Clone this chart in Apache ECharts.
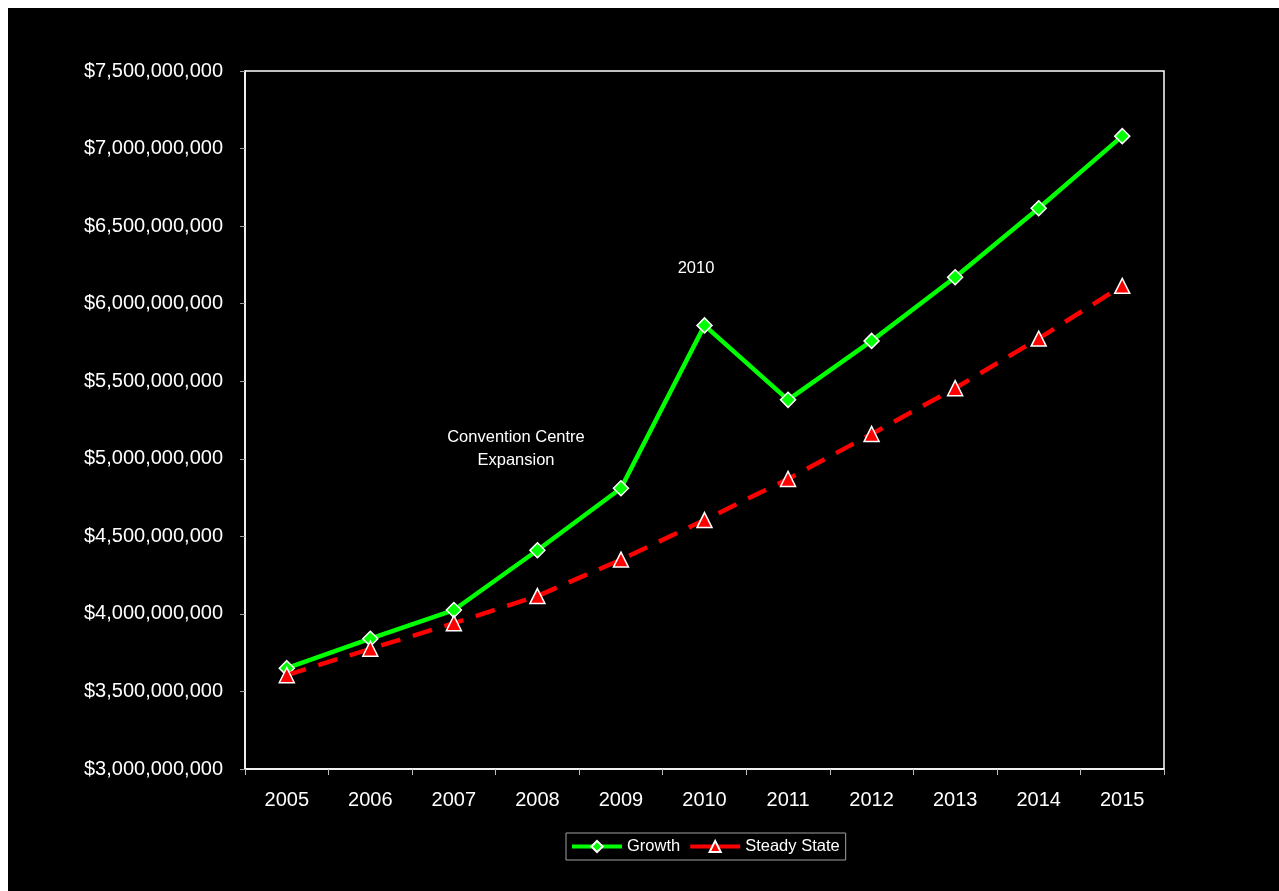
<!DOCTYPE html>
<html>
<head>
<meta charset="utf-8">
<script src="https://cdn.jsdelivr.net/npm/echarts@6/dist/echarts.min.js"></script>
<style>
html,body{margin:0;padding:0;background:#fff;}
#c{position:absolute;left:8px;top:8px;width:1271px;height:883px;background:#000;}
</style>
</head>
<body>
<div id="c"></div>
<script>
const years = ['2005','2006','2007','2008','2009','2010','2011','2012','2013','2014','2015'];
const growth = [3650000000, 3840000000, 4025000000, 4410000000, 4810000000, 5860000000, 5380000000, 5760000000, 6170000000, 6615000000, 7080000000];
const steady = [3605000000, 3775000000, 3940000000, 4115000000, 4350000000, 4605000000, 4870000000, 5160000000, 5455000000, 5775000000, 6115000000];
const yMin = 3000000000, yMax = 7500000000, yStep = 500000000;
const annotations = ['2010', 'Convention Centre\nExpansion'];

const chart = echarts.init(document.getElementById('c'), null, {renderer: 'canvas'});
const font = 'Liberation Sans, Arial, sans-serif';
chart.setOption({
  backgroundColor: '#000',
  animation: false,
  textStyle: {fontFamily: font},
  grid: {left: 237, top: 63, right: 115, bottom: 122, show: true, borderColor: '#ffffff', borderWidth: 1.5, containLabel: false},
  xAxis: {
    type: 'category',
    data: years,
    boundaryGap: true,
    axisLine: {show: true, lineStyle: {color: '#ffffff', width: 1.5}},
    axisTick: {show: true, inside: false, length: 6, alignWithLabel: false, lineStyle: {color: '#c0c0c0', width: 1}},
    axisLabel: {color: '#ffffff', fontSize: 20, margin: 21, fontFamily: font},
    splitLine: {show: false}
  },
  yAxis: {
    type: 'value',
    min: yMin, max: yMax, interval: yStep,
    axisLine: {show: true, lineStyle: {color: '#ffffff', width: 1.5}},
    axisTick: {show: true, inside: false, length: 5, lineStyle: {color: '#a0a0a0', width: 1}},
    axisLabel: {
      color: '#ffffff', fontSize: 20, margin: 22, fontFamily: font,
      formatter: v => '$' + Math.round(v).toLocaleString('en-US')
    },
    splitLine: {show: false}
  },
  legend: {
    show: true,
    left: 558, top: 825,
    orient: 'horizontal',
    backgroundColor: '#000',
    borderColor: '#a0a0a0', borderWidth: 1,
    padding: [5, 6, 5, 4],
    itemWidth: 50, itemHeight: 14, itemGap: 8,
    lineStyle: {width: 4},
    textStyle: {color: '#ffffff', fontSize: 16.5, fontFamily: font},
    data: [
      {name: 'Growth'},
      {name: 'Steady State', lineStyle: {type: 'solid', width: 4}}
    ]
  },
  series: [
    {
      name: 'Growth', type: 'line', data: growth, z: 2,
      symbol: 'diamond', symbolSize: 15,
      lineStyle: {color: '#00ff00', width: 4.5},
      itemStyle: {color: '#00ff00', borderColor: '#ffffff', borderWidth: 1.5}
    },
    {
      name: 'Steady State', type: 'line', data: steady, z: 3,
      symbol: 'triangle', symbolSize: 15,
      lineStyle: {color: '#ff0000', width: 4.5, type: [20, 13]},
      itemStyle: {color: '#ff0000', borderColor: '#ffffff', borderWidth: 1.5}
    }
  ],
  graphic: [
    {type: 'text', x: 688, y: 260, style: {text: annotations[0], fill: '#ffffff', font: '16.5px ' + font, align: 'center', verticalAlign: 'middle'}},
    {type: 'text', x: 508, y: 441, style: {text: annotations[1], fill: '#ffffff', font: '16.5px ' + font, align: 'center', verticalAlign: 'middle', lineHeight: 23}}
  ]
});
</script>
</body>
</html>
